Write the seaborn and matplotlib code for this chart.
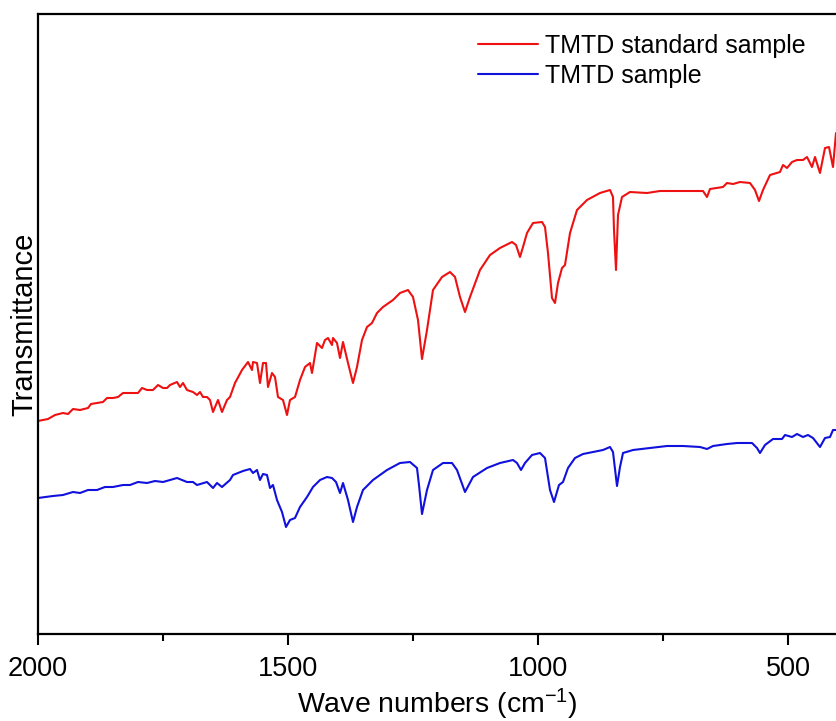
import matplotlib
matplotlib.use("Agg")
import matplotlib.pyplot as plt
from matplotlib.ticker import MultipleLocator
import numpy as np
import pandas as pd
import seaborn as sns

# Wavenumbers (cm-1) and transmittance (arbitrary units)
std_wn = [2000, 1980, 1966, 1950, 1940, 1930, 1916, 1900, 1894, 1882, 1870, 1862, 1850, 1840,
          1830, 1816, 1800, 1792, 1782, 1770, 1760, 1750, 1742, 1736, 1722, 1716, 1710, 1702,
          1690, 1682, 1676, 1670, 1662, 1656, 1650, 1640, 1632, 1622, 1616, 1606, 1592, 1580,
          1572, 1570, 1562, 1556, 1550, 1544, 1540, 1532, 1526, 1520, 1510, 1502, 1496, 1486,
          1476, 1466, 1456, 1452, 1442, 1432, 1426, 1420, 1412, 1410, 1402, 1396, 1390, 1380,
          1370, 1362, 1352, 1342, 1332, 1322, 1310, 1290, 1276, 1260, 1250, 1240, 1232, 1222,
          1210, 1192, 1176, 1166, 1156, 1146, 1136, 1116, 1096, 1076, 1052, 1044, 1036, 1030,
          1022, 1010, 992, 986, 980, 972, 966, 960, 952, 946, 936, 922, 902, 876, 856, 850, 848,
          844, 840, 832, 816, 782, 756, 710, 670, 662, 656, 630, 622, 610, 596, 576, 566, 558,
          550, 536, 516, 510, 502, 492, 482, 470, 462, 452, 446, 436, 426, 418, 410, 404]
std_t = [21.3, 21.5, 21.9, 22.1, 22.0, 22.5, 22.4, 22.6, 23.0, 23.1, 23.2, 23.6, 23.6, 23.7,
         24.1, 24.1, 24.1, 24.6, 24.4, 24.4, 24.9, 24.6, 24.6, 24.9, 25.2, 24.7, 25.1, 24.4,
         24.2, 23.9, 24.2, 23.7, 23.7, 23.4, 22.2, 23.4, 22.2, 23.4, 23.7, 25.1, 26.4, 27.2,
         26.4, 27.2, 27.1, 25.1, 27.1, 27.1, 24.7, 26.1, 25.7, 23.7, 23.4, 21.9, 23.4, 23.7,
         25.4, 26.7, 27.1, 26.1, 29.1, 28.6, 29.4, 29.6, 28.9, 29.6, 29.1, 27.6, 29.2, 27.1,
         25.1, 26.7, 29.4, 30.7, 31.1, 32.1, 32.7, 33.4, 34.1, 34.4, 33.7, 31.4, 27.5, 30.4,
         34.4, 35.7, 36.2, 35.7, 33.7, 32.2, 33.7, 36.4, 37.9, 38.6, 39.2, 38.9, 37.7, 38.7,
         40.1, 41.1, 41.2, 40.7, 38.1, 33.6, 33.1, 35.1, 36.6, 36.9, 40.1, 42.4, 43.4, 44.1,
         44.4, 43.7, 40.4, 36.4, 41.9, 43.7, 44.2, 44.1, 44.3, 44.3, 44.3, 43.7, 44.5, 44.7,
         45.1, 45.0, 45.2, 45.1, 44.4, 43.3, 44.4, 45.9, 46.2, 46.9, 46.6, 47.2, 47.4, 47.4,
         47.7, 46.7, 47.7, 46.1, 48.6, 48.7, 46.7, 50.1]

smp_wn = [2000, 1970, 1950, 1930, 1916, 1900, 1882, 1866, 1850, 1830, 1816, 1800, 1782, 1766,
          1750, 1736, 1722, 1702, 1690, 1682, 1662, 1650, 1642, 1632, 1616, 1610, 1590, 1576,
          1570, 1562, 1556, 1550, 1542, 1536, 1530, 1522, 1512, 1504, 1496, 1486, 1476, 1462,
          1450, 1436, 1422, 1412, 1404, 1396, 1390, 1380, 1370, 1362, 1350, 1330, 1302, 1276,
          1256, 1242, 1238, 1232, 1222, 1210, 1190, 1172, 1162, 1146, 1130, 1102, 1076, 1050,
          1042, 1034, 1026, 1012, 996, 986, 976, 968, 958, 950, 940, 926, 910, 890, 870, 856,
          850, 842, 836, 830, 810, 776, 742, 710, 676, 662, 650, 622, 602, 572, 562, 556, 546,
          530, 512, 506, 492, 482, 470, 460, 450, 436, 426, 416, 410, 404]
smp_t = [13.6, 13.8, 13.9, 14.2, 14.1, 14.4, 14.4, 14.7, 14.7, 14.9, 14.9, 15.2, 15.1, 15.3,
         15.2, 15.4, 15.6, 15.2, 15.2, 14.9, 15.2, 14.6, 15.1, 14.7, 15.4, 15.9, 16.3, 16.5,
         16.1, 16.4, 15.4, 16.0, 15.9, 14.6, 14.9, 13.4, 12.2, 10.7, 11.4, 11.6, 12.7, 13.7,
         14.7, 15.4, 15.7, 15.6, 15.2, 14.1, 15.1, 13.4, 11.2, 12.7, 14.4, 15.4, 16.4, 17.1,
         17.2, 16.6, 14.9, 12.0, 14.4, 16.4, 17.1, 17.1, 16.4, 14.2, 15.7, 16.6, 17.1, 17.4,
         17.1, 16.4, 17.1, 17.9, 18.1, 17.6, 14.4, 13.2, 14.9, 15.2, 16.6, 17.6, 18.0, 18.2,
         18.4, 18.7, 18.2, 14.8, 16.7, 18.1, 18.4, 18.6, 18.8, 18.8, 18.7, 18.5, 18.8, 19.0,
         19.1, 19.1, 18.6, 18.1, 18.9, 19.5, 19.5, 19.9, 19.7, 20.0, 19.7, 19.9, 19.6, 18.7,
         19.6, 19.7, 20.4, 20.4]

series_names = ["TMTD standard sample", "TMTD sample"]
series_colors = ["#ee1111", "#1111dd"]

df = pd.concat([
    pd.DataFrame({"wn": std_wn, "T": std_t, "series": series_names[0]}),
    pd.DataFrame({"wn": smp_wn, "T": smp_t, "series": series_names[1]}),
], ignore_index=True)

sns.set_style("white")
plt.rcParams["font.family"] = ["Liberation Sans", "DejaVu Sans"]
plt.rcParams["mathtext.default"] = "regular"
plt.rcParams["text.color"] = "black"
plt.rcParams["axes.labelcolor"] = "black"
plt.rcParams["xtick.color"] = "black"

fig = plt.figure(figsize=(8.36, 7.21), dpi=100)
ax = fig.add_axes([38 / 836, 87 / 721, 798 / 836, 620 / 721])

sns.lineplot(data=df, x="wn", y="T", hue="series", hue_order=series_names,
             palette=series_colors, estimator=None, sort=True, linewidth=1.5, ax=ax)

ax.set_xlim(2000, 404)
ax.set_ylim(0, 62)
ax.xaxis.set_major_locator(MultipleLocator(500))
ax.xaxis.set_minor_locator(MultipleLocator(250))
ax.set_yticks([])
ax.tick_params(axis="x", which="major", direction="out", length=8, width=1.5,
               labelsize=19.5, pad=8, bottom=True, colors="black")
ax.tick_params(axis="x", which="minor", direction="out", length=5, width=1.5, bottom=True)
for side in ["left", "bottom", "top"]:
    ax.spines[side].set_linewidth(1.6)
    ax.spines[side].set_color("black")
ax.spines["right"].set_visible(False)

ax.set_xlabel("Wave numbers (cm$^{-1}$)", fontsize=20.5, labelpad=3, color="black")
ax.set_ylabel("Transmittance", fontsize=21, labelpad=0, color="black")

leg = ax.legend(loc="upper left", bbox_to_anchor=(0.532, 0.992), frameon=False,
                fontsize=18, handlelength=2.4, handletextpad=0.3, labelspacing=0.25,
                borderaxespad=0.2)
for t in leg.get_texts():
    t.set_color("black")

fig.savefig("out.png", dpi=100)
